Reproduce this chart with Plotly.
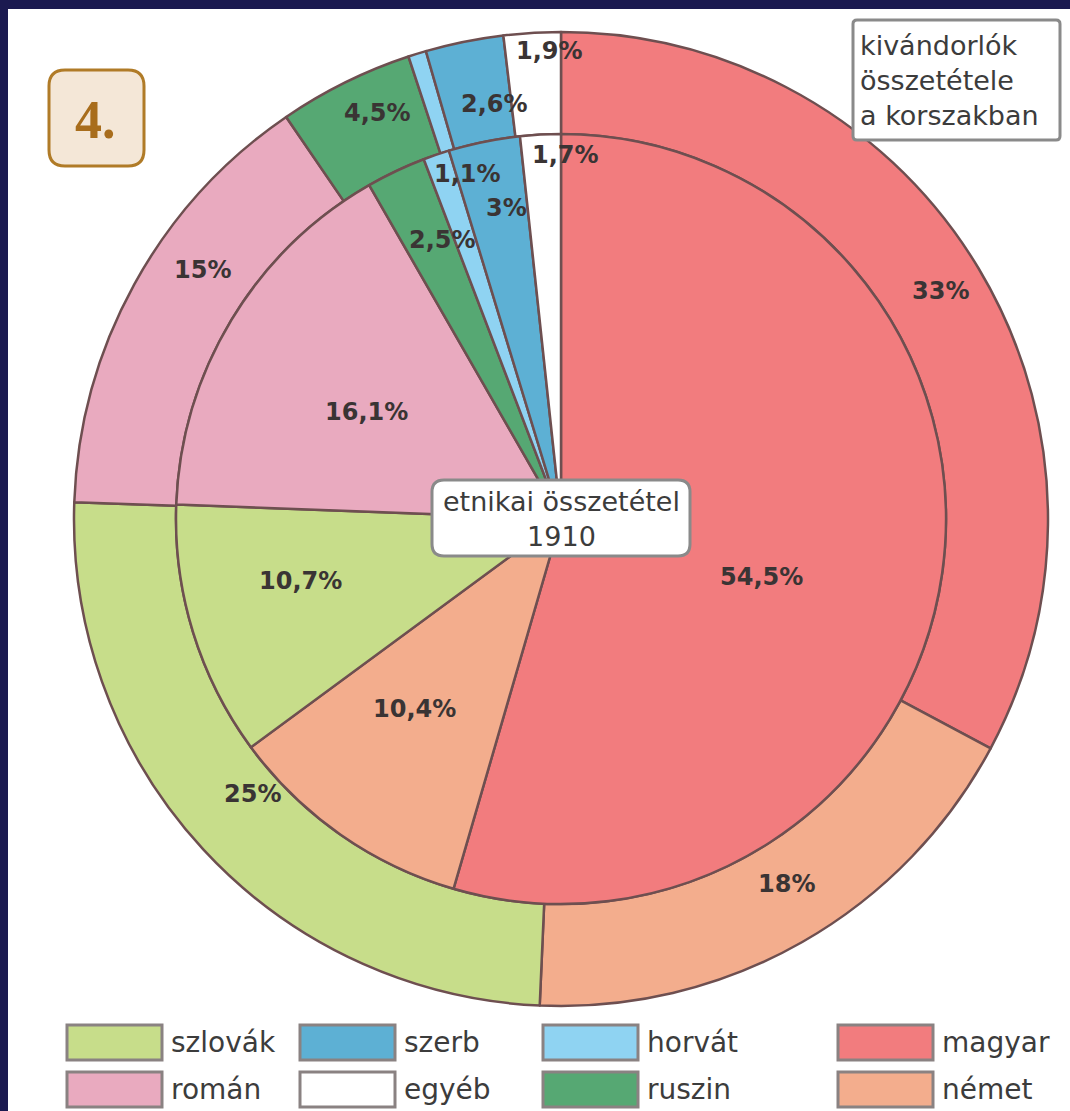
import math
import plotly.graph_objects as go

# ---------------- data ----------------
categories = ["magyar", "német", "szlovák", "román", "ruszin", "horvát", "szerb", "egyéb"]
inner_values = [54.5, 10.4, 10.7, 16.1, 2.5, 1.1, 3.0, 1.7]      # etnikai összetétel 1910
outer_values = [33, 18, 25, 15, 4.5, 0.6, 2.6, 1.9]              # kivándorlók összetétele
outer_labelled = [True, True, True, True, True, False, True, True]
legend_rows = [["szlovák", "szerb", "horvát", "magyar"],
               ["román", "egyéb", "ruszin", "német"]]

# ---------------- style ----------------
W, H = 1070, 1111
colors = {
    "magyar": "#f27c7e", "német": "#f3ad8d", "szlovák": "#c7dd8a", "román": "#e9aabf",
    "ruszin": "#56a873", "horvát": "#8fd3f2", "szerb": "#5db0d4", "egyéb": "#ffffff",
}
line_col = "#6e4f50"
text_col = "#3a3434"
CX, CY = 561, 519          # pie centre (px, from top-left)
R_OUT, R_IN = 487, 385
# label placement (radius in px, angular nudge in degrees)
inner_label_r = [209, 240, 268, 222, 303, 358, 316, 364]
inner_label_da = [8, 2.6, 3.7, -2.4, 2.3, 3.7, 1.5, 3.8]
outer_label_r = [443, 429, 413, 437, 445, 0, 420, 468]
outer_label_da = [0, -2, 1, 6, 2, 0, 2.4, 2]


def px(x):
    return x / W


def py(y):
    return 1 - y / H


def dom(r):
    return dict(x=[px(CX - r), px(CX + r)], y=[py(CY + r), py(CY - r)])


cols = [colors[c] for c in categories]
fig = go.Figure()
fig.add_trace(go.Pie(
    values=outer_values, labels=categories, sort=False, direction="clockwise", rotation=0,
    hole=R_IN / R_OUT, domain=dom(R_OUT), textinfo="none", hoverinfo="label+value",
    marker=dict(colors=cols, line=dict(color=line_col, width=2.5)), showlegend=False,
))
fig.add_trace(go.Pie(
    values=inner_values, labels=categories, sort=False, direction="clockwise", rotation=0,
    domain=dom(R_IN), textinfo="none", hoverinfo="label+value",
    marker=dict(colors=cols, line=dict(color=line_col, width=2.5)), showlegend=False,
))


def fmt(v):
    return ("%g" % v).replace(".", ",") + "%"


annotations = []


def ann(x, y, text, size, color, family="DejaVu Sans", xanchor="center", align="center"):
    annotations.append(dict(x=px(x), y=py(y), xref="paper", yref="paper", showarrow=False,
                            xanchor=xanchor, yanchor="middle", align=align, text=text,
                            font=dict(family=family, size=size, color=color)))


def add_labels(values, radii, nudges, show):
    tot = sum(values)
    cum = 0.0
    for v, r, da, s in zip(values, radii, nudges, show):
        mid = (cum + v / 2) / tot * 2 * math.pi + math.radians(da)
        cum += v
        if not s:
            continue
        ann(CX + r * math.sin(mid), CY - r * math.cos(mid), "<b>" + fmt(v) + "</b>", 24, text_col)


add_labels(inner_values, inner_label_r, inner_label_da, [True] * len(inner_values))
add_labels(outer_values, outer_label_r, outer_label_da, outer_labelled)


def rrect(x0, y0, x1, y1, r):
    rx, ry = r / W, r / H
    X0, X1 = px(x0), px(x1)
    Y0, Y1 = py(y0), py(y1)   # Y0 top, Y1 bottom
    return (f"M {X0+rx},{Y0} L {X1-rx},{Y0} Q {X1},{Y0} {X1},{Y0-ry} "
            f"L {X1},{Y1+ry} Q {X1},{Y1} {X1-rx},{Y1} L {X0+rx},{Y1} "
            f"Q {X0},{Y1} {X0},{Y1+ry} L {X0},{Y0-ry} Q {X0},{Y0} {X0+rx},{Y0} Z")


shapes = []
# navy frame (top & left)
shapes.append(dict(type="rect", xref="paper", yref="paper", x0=0, x1=1, y0=py(9), y1=1,
                   fillcolor="#1b1a50", line=dict(width=0), layer="above"))
shapes.append(dict(type="rect", xref="paper", yref="paper", x0=0, x1=px(8), y0=0, y1=1,
                   fillcolor="#1b1a50", line=dict(width=0), layer="above"))
# "4." box
shapes.append(dict(type="path", xref="paper", yref="paper", path=rrect(49, 70, 144, 166, 16),
                   fillcolor="#f4e7d7", line=dict(color="#b07b27", width=3)))
ann(96, 120, "<b>4.</b>", 54, "#a86d1c", family="Liberation Serif")
# top-right box
shapes.append(dict(type="path", xref="paper", yref="paper", path=rrect(853, 20, 1060, 140, 4),
                   fillcolor="#ffffff", line=dict(color="#8a8a8a", width=3)))
ann(858, 81, "kivándorlók<br>összetétele<br>a korszakban", 27, "#3c3c3c",
    xanchor="left", align="left")
# centre box
shapes.append(dict(type="path", xref="paper", yref="paper", path=rrect(432, 480, 690, 556, 12),
                   fillcolor="#ffffff", line=dict(color="#8a8a8a", width=3), layer="above"))
ann(CX, 519, "etnikai összetétel<br>1910", 27, "#3c3c3c")

# legend
col_x = [67, 300, 543, 838]
row_y = [1025, 1072]
sw_w, sw_h = 95, 35
for ri, row in enumerate(legend_rows):
    for ci, name in enumerate(row):
        x0, y0 = col_x[ci], row_y[ri]
        shapes.append(dict(type="rect", xref="paper", yref="paper",
                           x0=px(x0), x1=px(x0 + sw_w), y0=py(y0 + sw_h), y1=py(y0),
                           fillcolor=colors[name], line=dict(color="#8a8282", width=3)))
        ann(x0 + sw_w + 7, y0 + sw_h / 2, name, 28, "#3c3c3c", xanchor="left")

fig.update_layout(
    width=W, height=H, margin=dict(l=0, r=0, t=0, b=0),
    paper_bgcolor="#ffffff", plot_bgcolor="#ffffff",
    shapes=shapes, annotations=annotations, showlegend=False,
)
fig.write_html("out.html")
